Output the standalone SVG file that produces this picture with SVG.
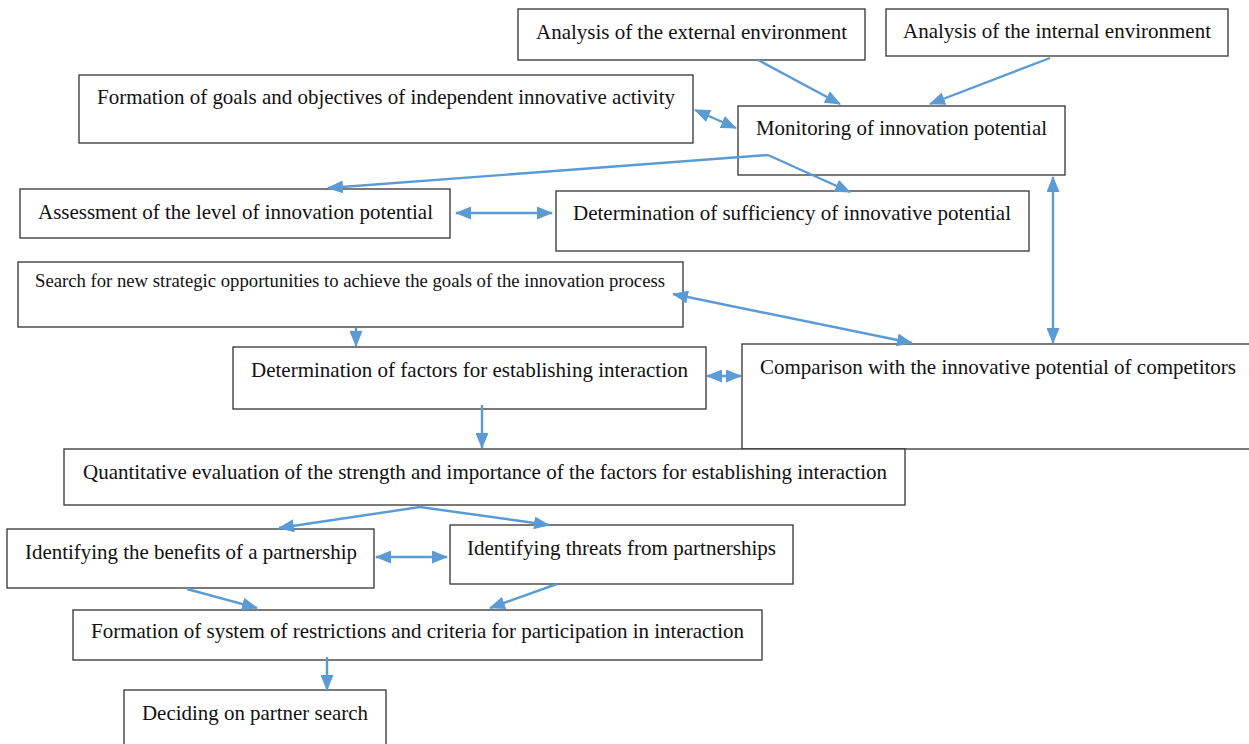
<svg xmlns="http://www.w3.org/2000/svg" width="1249" height="744" viewBox="0 0 1249 744">
<defs>
<marker id="ah" viewBox="0 0 16 13" refX="15" refY="6.5" markerWidth="16" markerHeight="13" markerUnits="userSpaceOnUse" orient="auto-start-reverse">
<path d="M0,0 L16,6.5 L0,13 z" fill="#5b9bd5"/>
</marker>
<style>
.box{fill:#fff;stroke:#333;stroke-width:1.3}
text{font-family:"Liberation Serif","Times New Roman",serif;font-size:21px;fill:#111}
.s{font-size:18px}
.c{fill:none;stroke:#5b9bd5;stroke-width:2.4}
.e{marker-end:url(#ah)}
.d{marker-start:url(#ah);marker-end:url(#ah)}
</style>
</defs>
<rect width="1249" height="744" fill="#fff"/>
<g id="n-external"><rect class="box" x="518" y="9" width="347" height="51"/><text x="536" y="39" textLength="311" lengthAdjust="spacingAndGlyphs">Analysis of the external environment</text></g>
<g id="n-internal"><rect class="box" x="886" y="9" width="342" height="47"/><text x="903" y="38" textLength="308" lengthAdjust="spacingAndGlyphs">Analysis of the internal environment</text></g>
<g id="n-goals"><rect class="box" x="79" y="75" width="614" height="68"/><text x="97" y="104" textLength="578" lengthAdjust="spacingAndGlyphs">Formation of goals and objectives of independent innovative activity</text></g>
<g id="n-monitoring"><rect class="box" x="738" y="106" width="327" height="69"/><text x="756" y="135" textLength="291" lengthAdjust="spacingAndGlyphs">Monitoring of innovation potential</text></g>
<g id="n-assessment"><rect class="box" x="20" y="189" width="430" height="49"/><text x="38" y="219" textLength="395" lengthAdjust="spacingAndGlyphs">Assessment of the level of innovation potential</text></g>
<g id="n-sufficiency"><rect class="box" x="556" y="191" width="473" height="60"/><text x="573" y="220" textLength="438" lengthAdjust="spacingAndGlyphs">Determination of sufficiency of innovative potential</text></g>
<g id="n-search"><rect class="box" x="18" y="262" width="665" height="65"/><text class="s" x="35" y="287" textLength="630" lengthAdjust="spacingAndGlyphs">Search for new strategic opportunities to achieve the goals of the innovation process</text></g>
<g id="n-factors"><rect class="box" x="233" y="347" width="473" height="62"/><text x="251" y="377" textLength="437" lengthAdjust="spacingAndGlyphs">Determination of factors for establishing interaction</text></g>
<g id="n-comparison"><rect class="box" x="742" y="344" width="520" height="105"/><text x="760" y="374" textLength="476" lengthAdjust="spacingAndGlyphs">Comparison with the innovative potential of competitors</text></g>
<g id="n-quantitative"><rect class="box" x="64" y="449" width="841" height="56"/><text x="83" y="479" textLength="804" lengthAdjust="spacingAndGlyphs">Quantitative evaluation of the strength and importance of the factors for establishing interaction</text></g>
<g id="n-benefits"><rect class="box" x="7" y="529" width="367" height="59"/><text x="25" y="559" textLength="332" lengthAdjust="spacingAndGlyphs">Identifying the benefits of a partnership</text></g>
<g id="n-threats"><rect class="box" x="450" y="525" width="343" height="59"/><text x="467" y="555" textLength="309" lengthAdjust="spacingAndGlyphs">Identifying threats from partnerships</text></g>
<g id="n-restrictions"><rect class="box" x="73" y="610" width="689" height="50"/><text x="91" y="638" textLength="653" lengthAdjust="spacingAndGlyphs">Formation of system of restrictions and criteria for participation in interaction</text></g>
<g id="n-deciding"><rect class="box" x="124" y="690" width="262" height="60"/><text x="142" y="720" textLength="226" lengthAdjust="spacingAndGlyphs">Deciding on partner search</text></g>
<g id="connectors">
<line class="c e" x1="758" y1="60" x2="840" y2="104"/>
<line class="c e" x1="1050" y1="58" x2="930" y2="104"/>
<line class="c d" x1="695" y1="110" x2="736" y2="128"/>
<line class="c e" x1="768" y1="155" x2="328" y2="188"/>
<line class="c e" x1="768" y1="155" x2="850" y2="192"/>
<line class="c d" x1="456" y1="213" x2="552" y2="213"/>
<line class="c d" x1="1053" y1="177" x2="1053" y2="343"/>
<line class="c d" x1="673" y1="294" x2="912" y2="343"/>
<line class="c e" x1="356" y1="328" x2="356" y2="346"/>
<line class="c d" x1="707" y1="376" x2="741" y2="376"/>
<line class="c e" x1="482" y1="405" x2="482" y2="448"/>
<line class="c e" x1="420" y1="507" x2="279" y2="528"/>
<line class="c e" x1="420" y1="507" x2="549" y2="525"/>
<line class="c d" x1="376" y1="557" x2="447" y2="557"/>
<line class="c e" x1="187" y1="589" x2="257" y2="608"/>
<line class="c e" x1="557" y1="584" x2="490" y2="608"/>
<line class="c e" x1="327" y1="657" x2="327" y2="690"/>
</g>
</svg>
